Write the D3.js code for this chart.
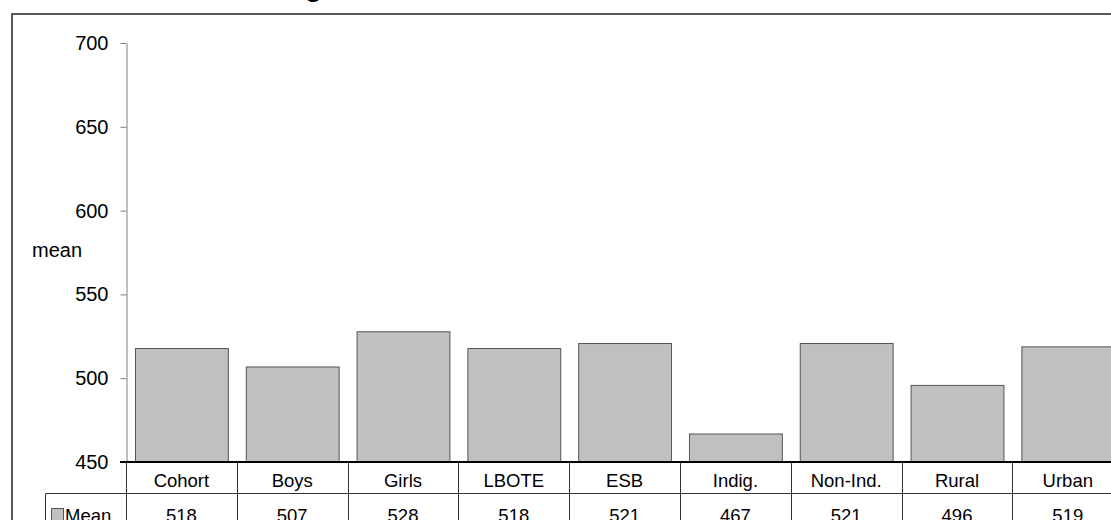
<!DOCTYPE html>
<html>
<head>
<meta charset="utf-8">
<script src="https://cdn.jsdelivr.net/npm/d3@7/dist/d3.min.js"></script>
<style>
  html, body { margin: 0; padding: 0; background: #fff; overflow: hidden; }
  svg { display: block; font-family: Arial, "Liberation Sans", sans-serif; }
</style>
</head>
<body>
<svg id="chart" width="1111" height="520"></svg>
<script>
// Mean scores by student group
const categories = ["Cohort", "Boys", "Girls", "LBOTE", "ESB", "Indig.", "Non-Ind.", "Rural", "Urban"];
const meanValues = [518, 507, 528, 518, 521, 467, 521, 496, 519];
const yTicks = [450, 500, 550, 600, 650, 700];
const seriesName = "Mean";
const yTitle = "mean";
const chartTitle = "Reading";

const svg = d3.select("#chart");
const W = 1111, H = 520;

const plotLeft = 126, plotTop = 43, plotBottom = 462;
const colStep = 110.8;

// column scale for the data table and a padded one for the bars
const xCol = d3.scaleBand().domain(categories)
  .range([plotLeft, plotLeft + colStep * categories.length]).padding(0);
const xBar = d3.scaleBand().domain(categories)
  .range([plotLeft, plotLeft + colStep * categories.length])
  .paddingInner(0.162).paddingOuter(0.081);
const y = d3.scaleLinear().domain([450, 700]).range([plotBottom, plotTop]);

// chart title (sits mostly above the frame)
svg.append("text")
  .attr("x", 322).attr("y", -4)
  .attr("text-anchor", "end")
  .attr("font-size", 28).attr("font-weight", "bold")
  .attr("fill", "#000")
  .text(chartTitle);

// outer chart frame
svg.append("rect")
  .attr("x", 12).attr("y", 14)
  .attr("width", W + 20).attr("height", H + 20)
  .attr("fill", "none").attr("stroke", "#222").attr("stroke-width", 1.5);

// bars
svg.append("g").selectAll("rect")
  .data(categories)
  .join("rect")
  .attr("x", d => xBar(d) + 0.5)
  .attr("y", (d, i) => y(meanValues[i]) + 0.5)
  .attr("width", xBar.bandwidth())
  .attr("height", (d, i) => plotBottom - y(meanValues[i]))
  .attr("fill", "#c0c0c0")
  .attr("stroke", "#555")
  .attr("stroke-width", 1);

// y axis
const yAxis = svg.append("g")
  .attr("transform", `translate(${plotLeft + 0.5},0)`)
  .call(d3.axisLeft(y).tickValues(yTicks).tickSize(6).tickSizeOuter(0).tickPadding(12));
yAxis.select(".domain").attr("stroke", "#808080");
yAxis.selectAll(".tick line").attr("stroke", "#808080");
yAxis.selectAll(".tick text")
  .attr("font-size", 20).attr("fill", "#000")
  .attr("font-family", "Arial, 'Liberation Sans', sans-serif");

// y title
svg.append("text")
  .attr("x", 32).attr("y", 257)
  .attr("font-size", 20).attr("fill", "#000")
  .text(yTitle);

// data table: separators
const table = svg.append("g");
const colEdges = categories.map(c => xCol(c)).concat([xCol(categories[categories.length - 1]) + xCol.bandwidth()]);
table.selectAll("line.sep")
  .data(colEdges)
  .join("line")
  .attr("class", "sep")
  .attr("x1", d => Math.round(d) + 0.5).attr("x2", d => Math.round(d) + 0.5)
  .attr("y1", plotBottom).attr("y2", H + 10)
  .attr("stroke", "#333").attr("stroke-width", 1);

// row divider between category row and value row
table.append("line")
  .attr("x1", 45.5).attr("x2", W + 10)
  .attr("y1", 493.5).attr("y2", 493.5)
  .attr("stroke", "#333").attr("stroke-width", 1);
// legend cell left border
table.append("line")
  .attr("x1", 45.5).attr("x2", 45.5)
  .attr("y1", 493.5).attr("y2", H + 10)
  .attr("stroke", "#333").attr("stroke-width", 1);

// x axis baseline
svg.append("line")
  .attr("x1", 120).attr("x2", W + 10)
  .attr("y1", plotBottom).attr("y2", plotBottom)
  .attr("stroke", "#000").attr("stroke-width", 2);

// category labels
table.selectAll("text.cat")
  .data(categories)
  .join("text")
  .attr("class", "cat")
  .attr("x", d => xCol(d) + xCol.bandwidth() / 2)
  .attr("y", 487)
  .attr("text-anchor", "middle")
  .attr("font-size", 18.5).attr("fill", "#000")
  .text(d => d);

// value row
table.selectAll("text.val")
  .data(categories)
  .join("text")
  .attr("class", "val")
  .attr("x", d => xCol(d) + xCol.bandwidth() / 2)
  .attr("y", 521.5)
  .attr("text-anchor", "middle")
  .attr("font-size", 18.5).attr("fill", "#000")
  .text((d, i) => meanValues[i]);

// legend key
table.append("rect")
  .attr("x", 51.5).attr("y", 508.5)
  .attr("width", 12).attr("height", 12)
  .attr("fill", "#c0c0c0").attr("stroke", "#555");
table.append("text")
  .attr("x", 65).attr("y", 521.5)
  .attr("font-size", 18.5).attr("fill", "#000")
  .text(seriesName);
</script>
</body>
</html>
